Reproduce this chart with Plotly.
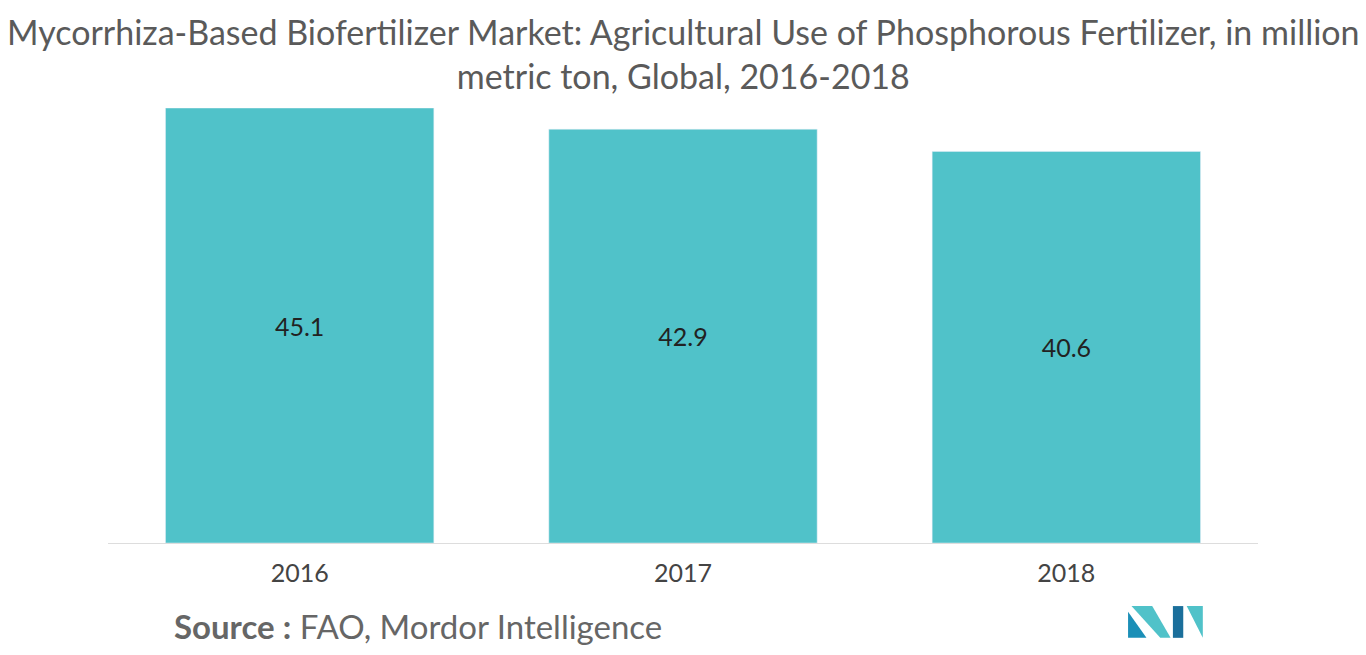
import plotly.graph_objects as go

years = ["2016", "2017", "2018"]
values = [45.1, 42.9, 40.6]
labels = ["45.1", "42.9", "40.6"]

fig = go.Figure(go.Bar(
    x=years, y=values, text=labels, textposition="inside", insidetextanchor="middle",
    textfont=dict(size=25, color="#222222", family="Lato"),
    marker=dict(color="#50c2c9"), hoverinfo="skip",
))

fig.update_layout(
    width=1366, height=655,
    margin=dict(l=100, r=116, t=100, b=120, autoexpand=False),
    plot_bgcolor="white", paper_bgcolor="white",
    bargap=0.30,
    showlegend=False,
    font=dict(family="Lato", color="#555555"),
    xaxis=dict(showline=True, linecolor="#dddddd", linewidth=1,
               ticks="outside", ticklen=8, tickcolor="rgba(0,0,0,0)",
               tickfont=dict(size=25, color="#444444")),
    yaxis=dict(visible=False, range=[0, 45.1]),
)

fig.add_annotation(
    text="Mycorrhiza-Based Biofertilizer Market: Agricultural Use of Phosphorous Fertilizer, in million<br>metric ton, Global, 2016-2018",
    xref="paper", yref="paper", x=0.5, y=1.125, xanchor="center", yanchor="middle",
    showarrow=False, font=dict(size=34, color="#5a5a5a", family="Lato"),
)

fig.add_annotation(
    text="<b>Source :</b> FAO, Mordor Intelligence", xref="paper", yref="paper",
    x=0.056, y=-0.19, xanchor="left", yanchor="middle", showarrow=False,
    font=dict(size=33, color="#666666", family="Lato"),
)

# logo (domain coords)
logo = [
    ("M 0.887 -0.218 L 0.887 -0.158 L 0.903 -0.218 Z", "#1b8fb7"),
    ("M 0.890 -0.145 L 0.908 -0.145 L 0.924 -0.218 L 0.915 -0.218 Z", "#50c2c9"),
    ("M 0.926 -0.218 L 0.926 -0.145 L 0.935 -0.145 L 0.935 -0.218 Z", "#1b6f9b"),
    ("M 0.938 -0.145 L 0.952 -0.145 L 0.952 -0.218 Z", "#50c2c9"),
]
for path, col in logo:
    fig.add_shape(type="path", path=path, xref="x domain", yref="y domain",
                  fillcolor=col, line_width=0, layer="above")

fig.write_html("out.html")
